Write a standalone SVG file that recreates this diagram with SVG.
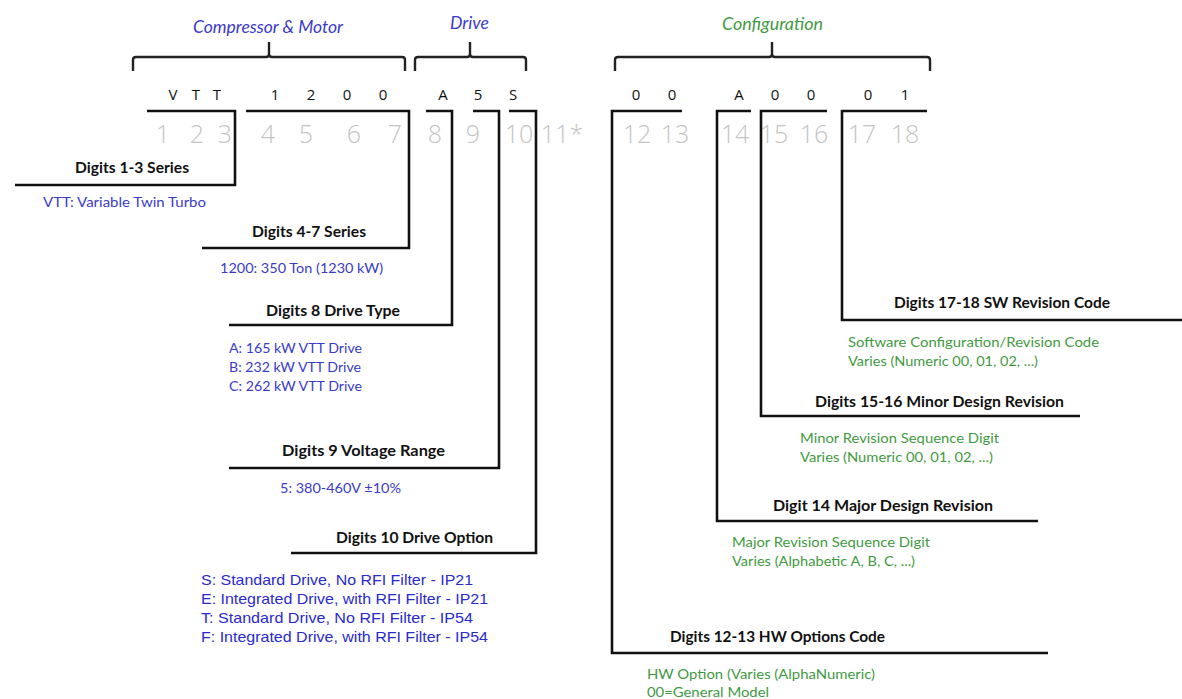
<svg xmlns="http://www.w3.org/2000/svg" width="1182" height="699" viewBox="0 0 1182 699">
<style>
.bg{fill:#ffffff}
.br{fill:none;stroke:#222;stroke-width:2.4}
.ln{fill:none;stroke:#111;stroke-width:2.6;stroke-linejoin:miter}
.hd{font-family:Lato,"Open Sans",sans-serif;font-style:italic;font-size:16.5px}
.blue{fill:#3a3acb}
.green{fill:#3f9a3f}
.ch{font-family:"Open Sans","Noto Sans",sans-serif;font-size:15px;fill:#111;text-anchor:middle}
.pos{font-family:"Open Sans","Noto Sans",sans-serif;font-weight:300;font-size:25px;fill:#c4c4c4;text-anchor:middle}
.lb{font-family:Lato,"Open Sans",sans-serif;font-weight:bold;font-size:14.5px;fill:#111}
.ds{font-family:Lato,"Open Sans",sans-serif;font-size:14px}
.ar{font-family:"Liberation Sans",Arial,sans-serif;font-size:14.5px;fill:#2a2ad0}
</style>
<rect class="bg" x="0" y="0" width="1182" height="699"/>

<g id="group-headers">
  <g id="hdr-compressor">
    <path class="br" d="M133,71 V60 Q133,57 136,57 H266 Q269,57 269,54 V42 M269,54 Q269,57 272,57 H402 Q405,57 405,60 V71"/>
    <text class="hd blue" x="193" y="33" textLength="150" lengthAdjust="spacingAndGlyphs">Compressor &amp; Motor</text>
  </g>
  <g id="hdr-drive">
    <path class="br" d="M415,71 V60 Q415,57 418,57 H467 Q470,57 470,54 V42 M470,54 Q470,57 473,57 H523 Q526,57 526,60 V71"/>
    <text class="hd blue" x="450" y="29" textLength="39" lengthAdjust="spacingAndGlyphs">Drive</text>
  </g>
  <g id="hdr-config">
    <path class="br" d="M615,71 V60 Q615,57 618,57 H769 Q772,57 772,54 V42 M772,54 Q772,57 775,57 H927 Q930,57 930,60 V71"/>
    <text class="hd green" x="722" y="30" textLength="101" lengthAdjust="spacingAndGlyphs">Configuration</text>
  </g>
</g>

<g id="code-chars">
  <text class="ch" x="173" y="100">V</text>
  <text class="ch" x="196" y="100">T</text>
  <text class="ch" x="217" y="100">T</text>
  <text class="ch" x="275" y="100">1</text>
  <text class="ch" x="311" y="100">2</text>
  <text class="ch" x="347" y="100">0</text>
  <text class="ch" x="383" y="100">0</text>
  <text class="ch" x="443" y="100">A</text>
  <text class="ch" x="478" y="100">5</text>
  <text class="ch" x="513" y="100">S</text>
  <text class="ch" x="636" y="100">0</text>
  <text class="ch" x="672" y="100">0</text>
  <text class="ch" x="739" y="100">A</text>
  <text class="ch" x="775" y="100">0</text>
  <text class="ch" x="811" y="100">0</text>
  <text class="ch" x="868" y="100">0</text>
  <text class="ch" x="905" y="100">1</text>
</g>

<g id="positions">
  <text class="pos" x="163" y="143">1</text>
  <text class="pos" x="197" y="143">2</text>
  <text class="pos" x="225" y="143">3</text>
  <text class="pos" x="268" y="143">4</text>
  <text class="pos" x="306" y="143">5</text>
  <text class="pos" x="354" y="143">6</text>
  <text class="pos" x="395" y="143">7</text>
  <text class="pos" x="435" y="143">8</text>
  <text class="pos" x="473" y="143">9</text>
  <text class="pos" x="519" y="143">10</text>
  <text class="pos" x="562" y="143">11*</text>
  <text class="pos" x="637" y="143">12</text>
  <text class="pos" x="675" y="143">13</text>
  <text class="pos" x="735" y="143">14</text>
  <text class="pos" x="774" y="143">15</text>
  <text class="pos" x="814" y="143">16</text>
  <text class="pos" x="862" y="143">17</text>
  <text class="pos" x="905" y="143">18</text>
</g>

<g id="connectors">
  <path class="ln" d="M147,111 H235 V185 H15"/>
  <path class="ln" d="M246,111 H409 V248 H202"/>
  <path class="ln" d="M426,111 H452 V325 H229"/>
  <path class="ln" d="M473,111 H499 V468 H229"/>
  <path class="ln" d="M509,111 H536 V553 H291"/>
  <path class="ln" d="M682,111 H612 V653 H1048"/>
  <path class="ln" d="M751,111 H717 V521 H1038"/>
  <path class="ln" d="M827,111 H761 V416 H1080"/>
  <path class="ln" d="M927,111 H842 V320 H1182"/>
</g>

<g id="node-series13">
  <text class="lb" x="75" y="173" textLength="114" lengthAdjust="spacingAndGlyphs">Digits 1-3 Series</text>
  <text class="ds blue" x="43" y="207" textLength="163" lengthAdjust="spacingAndGlyphs">VTT: Variable Twin Turbo</text>
</g>
<g id="node-series47">
  <text class="lb" x="252" y="237" textLength="114" lengthAdjust="spacingAndGlyphs">Digits 4-7 Series</text>
  <text class="ds blue" x="220" y="273" textLength="163" lengthAdjust="spacingAndGlyphs">1200: 350 Ton (1230 kW)</text>
</g>
<g id="node-drivetype">
  <text class="lb" x="266" y="316" textLength="134" lengthAdjust="spacingAndGlyphs">Digits 8 Drive Type</text>
  <text class="ds blue" x="229" y="353" textLength="133" lengthAdjust="spacingAndGlyphs">A: 165 kW VTT Drive</text>
  <text class="ds blue" x="229" y="372" textLength="132" lengthAdjust="spacingAndGlyphs">B: 232 kW VTT Drive</text>
  <text class="ds blue" x="229" y="391" textLength="133" lengthAdjust="spacingAndGlyphs">C: 262 kW VTT Drive</text>
</g>
<g id="node-voltage">
  <text class="lb" x="282" y="456" textLength="163" lengthAdjust="spacingAndGlyphs">Digits 9 Voltage Range</text>
  <text class="ds blue" x="280" y="493" textLength="121" lengthAdjust="spacingAndGlyphs">5: 380-460V ±10%</text>
</g>
<g id="node-driveoption">
  <text class="lb" x="336" y="543" textLength="157" lengthAdjust="spacingAndGlyphs">Digits 10 Drive Option</text>
  <text class="ar" x="201" y="585" textLength="272" lengthAdjust="spacingAndGlyphs">S: Standard Drive, No RFI Filter - IP21</text>
  <text class="ar" x="201" y="604" textLength="287" lengthAdjust="spacingAndGlyphs">E: Integrated Drive, with RFI Filter - IP21</text>
  <text class="ar" x="201" y="623" textLength="272" lengthAdjust="spacingAndGlyphs">T: Standard Drive, No RFI Filter - IP54</text>
  <text class="ar" x="201" y="642" textLength="287" lengthAdjust="spacingAndGlyphs">F: Integrated Drive, with RFI Filter - IP54</text>
</g>
<g id="node-sw">
  <text class="lb" x="894" y="308" textLength="216" lengthAdjust="spacingAndGlyphs">Digits 17-18 SW Revision Code</text>
  <text class="ds green" x="848" y="347" textLength="251" lengthAdjust="spacingAndGlyphs">Software Configuration/Revision Code</text>
  <text class="ds green" x="848" y="366" textLength="190" lengthAdjust="spacingAndGlyphs">Varies (Numeric 00, 01, 02, ...)</text>
</g>
<g id="node-minor">
  <text class="lb" x="815" y="407" textLength="249" lengthAdjust="spacingAndGlyphs">Digits 15-16 Minor Design Revision</text>
  <text class="ds green" x="800" y="443" textLength="199" lengthAdjust="spacingAndGlyphs">Minor Revision Sequence Digit</text>
  <text class="ds green" x="800" y="462" textLength="193" lengthAdjust="spacingAndGlyphs">Varies (Numeric 00, 01, 02, ...)</text>
</g>
<g id="node-major">
  <text class="lb" x="773" y="511" textLength="220" lengthAdjust="spacingAndGlyphs">Digit 14 Major Design Revision</text>
  <text class="ds green" x="732" y="547" textLength="198" lengthAdjust="spacingAndGlyphs">Major Revision Sequence Digit</text>
  <text class="ds green" x="732" y="566" textLength="183" lengthAdjust="spacingAndGlyphs">Varies (Alphabetic A, B, C, ...)</text>
</g>
<g id="node-hw">
  <text class="lb" x="670" y="642" textLength="215" lengthAdjust="spacingAndGlyphs">Digits 12-13 HW Options Code</text>
  <text class="ds green" x="647" y="679" textLength="228" lengthAdjust="spacingAndGlyphs">HW Option (Varies (AlphaNumeric)</text>
  <text class="ds green" x="647" y="697" textLength="122" lengthAdjust="spacingAndGlyphs">00=General Model</text>
</g>
</svg>
